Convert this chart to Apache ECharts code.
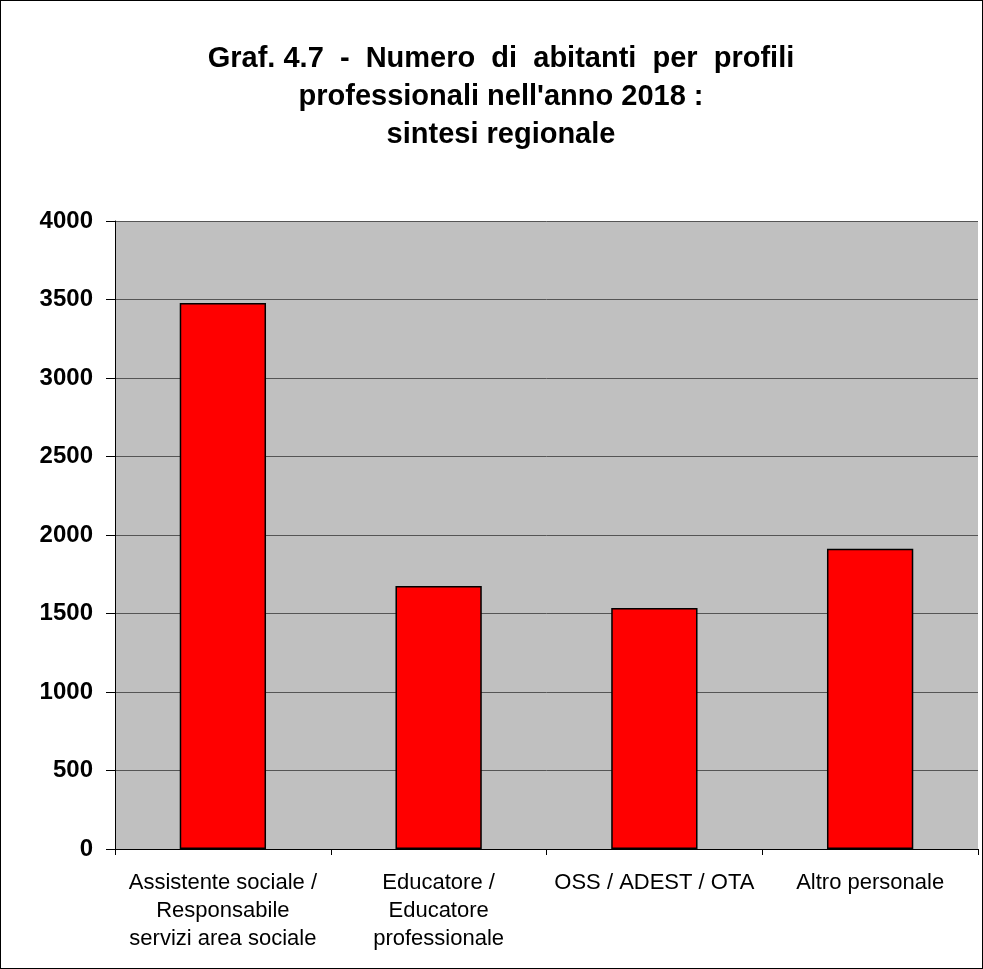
<!DOCTYPE html>
<html>
<head>
<meta charset="utf-8">
<script src="https://cdn.jsdelivr.net/npm/echarts@6/dist/echarts.min.js"></script>
<style>
  html, body { margin: 0; padding: 0; background: #fff; }
  #chart { width: 983px; height: 969px; box-sizing: border-box; border: 1px solid #000; }
</style>
</head>
<body>
<div id="chart"></div>
<script>
// dati
const categories = [
    'Assistente sociale /\nResponsabile\nservizi area sociale',
    'Educatore /\nEducatore\nprofessionale',
    'OSS / ADEST / OTA',
    'Altro personale'
];
const abitanti = [3478, 1675, 1535, 1912];
const titleLines = [
    'Graf. 4.7  -  Numero  di  abitanti  per  profili',
    "professionali nell'anno 2018 :",
    'sintesi regionale'
];

var chart = echarts.init(document.getElementById('chart'));

let option = {
    animation: false,
    textStyle: { fontFamily: 'Liberation Sans' },
    title: {
        text: titleLines.join('\n'),
        left: 495,
        textAlign: 'center',
        top: 34,
        textStyle: {
            fontFamily: 'Liberation Sans',
            fontSize: 29,
            fontWeight: 'bold',
            color: '#000',
            lineHeight: 38
        }
    },
    grid: {
        left: 114,
        right: 4,
        top: 220,
        bottom: 119,
        show: true,
        backgroundColor: '#c0c0c0',
        borderWidth: 0
    },
    xAxis: {
        type: 'category',
        data: categories,
        axisLine: { lineStyle: { color: '#000', width: 1 } },
        axisTick: { show: true, length: 6, alignWithLabel: false, lineStyle: { color: '#000' } },
        axisLabel: {
            color: '#000',
            fontSize: 22,
            lineHeight: 28,
            margin: 20,
            interval: 0
        }
    },
    yAxis: {
        type: 'value',
        min: 0,
        max: 4000,
        interval: 500,
        axisLine: { show: true, lineStyle: { color: '#000', width: 1 } },
        axisTick: { show: true, length: 9, lineStyle: { color: '#000' } },
        axisLabel: {
            color: '#000',
            fontSize: 24,
            fontWeight: 'bold',
            margin: 22,
            formatter: v => String(v)
        },
        splitLine: { show: true, lineStyle: { color: '#555', width: 1 } }
    },
    series: [{
        type: 'bar',
        data: abitanti,
        barWidth: '40%',
        itemStyle: {
            color: '#ff0000',
            borderColor: '#000',
            borderWidth: 1.5
        }
    }]
};

chart.setOption(option);
</script>
</body>
</html>
